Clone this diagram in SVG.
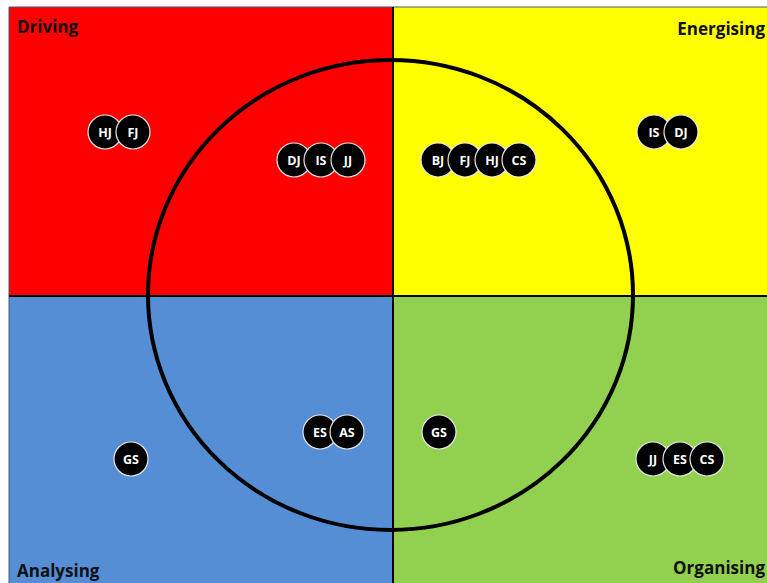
<svg xmlns="http://www.w3.org/2000/svg" width="767" height="583" viewBox="0 0 767 583">
<style>
.q{stroke:none}
.lbl{font-family:"Open Sans","Liberation Sans",sans-serif;font-weight:bold;font-size:17px;fill:#111}
.n circle{fill:#000;stroke:#e8e8e8;stroke-width:1.2}
.n text{font-family:"Open Sans","Liberation Sans",sans-serif;font-weight:bold;font-size:12.5px;fill:#fff;text-anchor:middle}
</style>
<rect width="767" height="583" fill="#fff"/>
<g id="quadrants">
<rect class="q" x="9" y="7" width="384" height="289" fill="#FF0000"/>
<rect class="q" x="393" y="7" width="374" height="289" fill="#FFFF00"/>
<rect class="q" x="9" y="296" width="384" height="287" fill="#558ED5"/>
<rect class="q" x="393" y="296" width="374" height="287" fill="#92D050"/>
<path d="M9 583V7H767" fill="none" stroke="#4a5a70" stroke-width="1"/>
</g>
<g id="connectors" stroke="#000" fill="none">
<line x1="393" y1="7" x2="393" y2="583" stroke-width="2"/>
<line x1="9" y1="296" x2="767" y2="296" stroke-width="2"/>
<ellipse cx="390.5" cy="295" rx="242.5" ry="235" stroke-width="4"/>
</g>
<g id="labels">
<text class="lbl" x="17" y="33">Driving</text>
<text class="lbl" x="765" y="35" text-anchor="end">Energising</text>
<text class="lbl" x="17" y="577">Analysing</text>
<text class="lbl" x="765" y="574" text-anchor="end">Organising</text>
</g>
<g id="driving-outer" class="n">
<circle cx="105" cy="132" r="17"/><text x="105" y="136.5">HJ</text>
<circle cx="133" cy="132" r="17"/><text x="133" y="136.5">FJ</text>
</g>
<g id="driving-inner" class="n">
<circle cx="294" cy="160" r="17"/><text x="294" y="164.5">DJ</text>
<circle cx="321" cy="160" r="17"/><text x="321" y="164.5">IS</text>
<circle cx="348" cy="160" r="17"/><text x="348" y="164.5">JJ</text>
</g>
<g id="energising-inner" class="n">
<circle cx="438" cy="160" r="17"/><text x="438" y="164.5">BJ</text>
<circle cx="465" cy="160" r="17"/><text x="465" y="164.5">FJ</text>
<circle cx="492" cy="160" r="17"/><text x="492" y="164.5">HJ</text>
<circle cx="519" cy="160" r="17"/><text x="519" y="164.5">CS</text>
</g>
<g id="energising-outer" class="n">
<circle cx="654" cy="132" r="17"/><text x="654" y="136.5">IS</text>
<circle cx="681" cy="132" r="17"/><text x="681" y="136.5">DJ</text>
</g>
<g id="analysing-outer" class="n">
<circle cx="131" cy="459" r="17"/><text x="131" y="463.5">GS</text>
</g>
<g id="analysing-inner" class="n">
<circle cx="320" cy="432" r="17"/><text x="320" y="436.5">ES</text>
<circle cx="347" cy="432" r="17"/><text x="347" y="436.5">AS</text>
</g>
<g id="organising-inner" class="n">
<circle cx="439" cy="432" r="17"/><text x="439" y="436.5">GS</text>
</g>
<g id="organising-outer" class="n">
<circle cx="653" cy="459" r="17"/><text x="653" y="463.5">JJ</text>
<circle cx="680" cy="459" r="17"/><text x="680" y="463.5">ES</text>
<circle cx="707" cy="459" r="17"/><text x="707" y="463.5">CS</text>
</g>
</svg>
